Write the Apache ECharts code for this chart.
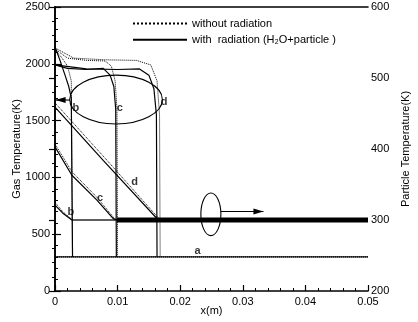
<!DOCTYPE html>
<html><head><meta charset="utf-8">
<script src="https://cdn.jsdelivr.net/npm/echarts@6/dist/echarts.min.js"></script>
<style>html,body{margin:0;padding:0;background:#fff}#c{width:418px;height:322px}</style>
</head><body><div id="c"></div>
<script>
// ---- axis ticks ----
const xTicks = [0, 0.01, 0.02, 0.03, 0.04, 0.05];
const gasTicks = [0, 500, 1000, 1500, 2000, 2500];
const partTicks = [200, 300, 400, 500, 600];

// ---- gas temperature (left axis, K) ----
const gasA = [[0, 300], [0.05, 300]];
const gasRadB = [[0, 2150], [0.0008, 2030], [0.0016, 1900], [0.0022, 1800], [0.0026, 1700], [0.0028, 300]];
const gasNoRadB = [[0, 2120], [0.001, 2060], [0.002, 1980], [0.0026, 1850], [0.0028, 300]];
const gasRadC = [[0, 1990], [0.002, 1960], [0.005, 1950], [0.0077, 1960], [0.0088, 1900], [0.0094, 1800], [0.0097, 1600], [0.0098, 300]];
const gasNoRadC = [[0, 2130], [0.002, 2050], [0.005, 2030], [0.008, 2025], [0.009, 1980], [0.0096, 1850], [0.0099, 1600], [0.0100, 300]];
const gasRadD = [[0, 1990], [0.005, 1955], [0.01, 1950], [0.0135, 1955], [0.015, 1900], [0.0158, 1780], [0.0162, 1550], [0.0163, 300]];
const gasNoRadD = [[0, 2140], [0.003, 2050], [0.008, 2035], [0.013, 2030], [0.0153, 1990], [0.0163, 1850], [0.0167, 1550], [0.0168, 300]];

// ---- particle temperature (right axis, K) ----
const partRadB = [[0, 321], [0.0012, 310], [0.0027, 300], [0.05, 300]];
const partNoRadB = [[0, 325], [0.0012, 312], [0.0028, 300], [0.05, 300]];
const partRadC = [[0, 403], [0.0027, 363], [0.0067, 328], [0.0093, 302], [0.0099, 300], [0.05, 300]];
const partNoRadC = [[0, 407], [0.0027, 368], [0.0067, 332], [0.0095, 302], [0.0101, 300], [0.05, 300]];
const partRadD = [[0, 459], [0.0077, 384], [0.0165, 300], [0.05, 300]];
const partNoRadD = [[0, 465], [0.0077, 390], [0.0168, 300], [0.05, 300]];
const partBand = [[0.0099, 300], [0.05, 300]];

// ---- curve letters ----
const gasLetters = [{ name: 'a', value: [0.0226, 300] }, { name: 'b', value: [0.0031, 1560] }, { name: 'c', value: [0.0102, 1560] }, { name: 'd', value: [0.0172, 1611] }];
const partLetters = [{ name: 'b', value: [0.0020, 311] }, { name: 'c', value: [0.0067, 331] }, { name: 'd', value: [0.0122, 354] }];

// ---- annotations (data coordinates) ----
const ellipseGas = { cx: 0.00975, cy: 1685, rx: 0.0074, ry: 215 };
const ellipsePart = { cx: 0.0249, cy: 308, rx: 0.0016, ry: 30 };
const arrowGas = { from: [0.0024, 1681], to: [0.0001, 1681] };
const arrowPart = { from: [0.0265, 312], to: [0.0333, 312] };

const NOR = 'without radiation';
const RAD = 'with  radiation (H\u2082O+particle )';
const FONT = 'Liberation Sans, Arial, sans-serif';

function ln(name, data, yi, dotted, w) {
  return { type: 'line', name, data, yAxisIndex: yi, symbol: 'none', silent: true, animation: false,
    itemStyle: { color: '#000' },
    lineStyle: { color: '#000', width: w || (dotted ? 1 : 1.2), type: dotted ? 'dotted' : 'solid' } };
}

const chart = echarts.init(document.getElementById('c'), null, { renderer: 'canvas' });
const axisCommon = {
  axisLine: { show: true, lineStyle: { color: '#000', width: 1.6 } },
  axisTick: { show: true, inside: true, length: 6, lineStyle: { color: '#000', width: 1.2 } },
  minorTick: { show: true, splitNumber: 5, length: 3, lineStyle: { color: '#000', width: 1 } },
  splitLine: { show: false },
  axisLabel: { color: '#000', fontSize: 11, fontFamily: FONT },
  nameTextStyle: { color: '#000', fontSize: 11, fontFamily: FONT },
  nameMoveOverlap: false
};
chart.setOption({
  animation: false,
  backgroundColor: '#fff',
  grid: { left: 55, top: 7, width: 313, height: 284, containLabel: false, outerBoundsMode: 'none' },
  legend: {
    orient: 'vertical', left: 132, top: 18, padding: 0, itemWidth: 54, itemHeight: 14, itemGap: 5,
    itemStyle: { opacity: 0 },
    data: [NOR, RAD], textStyle: { color: '#000', fontSize: 11, fontFamily: FONT }, selectedMode: false
  },
  xAxis: [
    Object.assign({}, axisCommon, {
      type: 'value', min: xTicks[0], max: xTicks[xTicks.length - 1], interval: 0.01,
      name: 'x(m)', nameLocation: 'middle', nameGap: 14,
      axisLabel: Object.assign({}, axisCommon.axisLabel, { margin: 5, formatter: v => v === 0 ? '0' : v.toFixed(2) })
    }),
    { type: 'value', position: 'top', min: 0, max: 0.05, axisLine: { show: true, onZero: false, lineStyle: { color: '#000', width: 1.6 } },
      axisTick: { show: false }, axisLabel: { show: false }, splitLine: { show: false } }
  ],
  yAxis: [
    Object.assign({}, axisCommon, {
      type: 'value', min: gasTicks[0], max: gasTicks[gasTicks.length - 1], interval: 500,
      name: 'Gas Temperature(K)', nameLocation: 'middle', nameGap: 33, nameRotate: 90,
      axisLabel: Object.assign({}, axisCommon.axisLabel, { margin: 5, formatter: v => String(v) })
    }),
    Object.assign({}, axisCommon, {
      type: 'value', position: 'right', min: partTicks[0], max: partTicks[partTicks.length - 1], interval: 100,
      name: 'Particle Temperature(K)', nameLocation: 'middle', nameGap: 32, nameRotate: 90,
      axisLabel: Object.assign({}, axisCommon.axisLabel, { margin: 3, formatter: v => String(v) })
    })
  ],
  series: [
    ln(NOR, gasA, 0, true),
    ln(RAD, gasA, 0, false),
    ln(RAD, gasRadB, 0, false), ln(NOR, gasNoRadB, 0, true),
    ln(RAD, gasRadC, 0, false), ln(NOR, gasNoRadC, 0, true),
    ln(RAD, gasRadD, 0, false), ln(NOR, gasNoRadD, 0, true),
    ln(RAD, partRadB, 1, false), ln(NOR, partNoRadB, 1, true),
    ln(RAD, partRadC, 1, false), ln(NOR, partNoRadC, 1, true),
    ln(RAD, partRadD, 1, false), ln(NOR, partNoRadD, 1, true),
    ln(RAD, partBand, 1, false, 5),
    { type: 'scatter', yAxisIndex: 0, data: gasLetters, symbolSize: 0, silent: true,
      label: { show: true, position: 'right', distance: 0, formatter: '{b}', color: '#000', fontSize: 11, fontWeight: 'bold', fontFamily: FONT, offset: [-2, -6] } },
    { type: 'scatter', yAxisIndex: 1, data: partLetters, symbolSize: 0, silent: true,
      label: { show: true, position: 'right', distance: 0, formatter: '{b}', color: '#000', fontSize: 11, fontWeight: 'bold', fontFamily: FONT } }
  ]
});

function px(yi, pt) { return chart.convertToPixel({ xAxisIndex: 0, yAxisIndex: yi }, pt); }
function ell(yi, e) {
  const c = px(yi, [e.cx, e.cy]);
  const r = px(yi, [e.cx + e.rx, e.cy + e.ry]);
  return { type: 'ellipse', silent: true, shape: { cx: c[0], cy: c[1], rx: Math.abs(r[0] - c[0]), ry: Math.abs(r[1] - c[1]) },
    style: { fill: 'none', stroke: '#000', lineWidth: 1.1 } };
}
function arrow(yi, a) {
  const p1 = px(yi, a.from), p2 = px(yi, a.to);
  const dir = Math.sign(p2[0] - p1[0]);
  return [
    { type: 'line', silent: true, shape: { x1: p1[0], y1: p1[1], x2: p2[0], y2: p2[1] }, style: { stroke: '#000', lineWidth: 1.1 } },
    { type: 'polygon', silent: true, shape: { points: [[p2[0], p2[1]], [p2[0] - dir * 10, p2[1] - 3], [p2[0] - dir * 10, p2[1] + 3]] }, style: { fill: '#000' } }
  ];
}
chart.setOption({ graphic: [ell(0, ellipseGas), ell(1, ellipsePart)].concat(arrow(0, arrowGas), arrow(1, arrowPart)) });
</script></body></html>
